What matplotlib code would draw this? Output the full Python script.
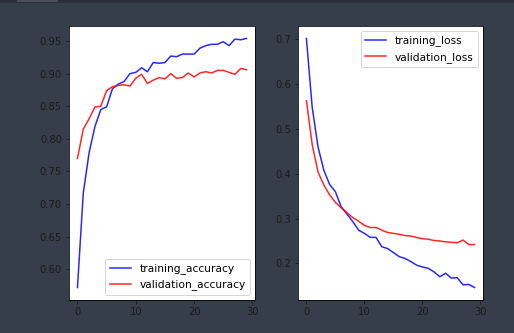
import matplotlib
matplotlib.use("Agg")
import matplotlib.pyplot as plt
from matplotlib.patches import Rectangle

BG = "#373e4b"

epochs = list(range(30))

training_accuracy = [0.572, 0.717, 0.779, 0.819, 0.845, 0.849, 0.877, 0.884, 0.888, 0.900,
                     0.902, 0.909, 0.903, 0.917, 0.916, 0.917, 0.927, 0.926, 0.930, 0.930,
                     0.930, 0.939, 0.943, 0.945, 0.945, 0.949, 0.943, 0.953, 0.952, 0.954]
validation_accuracy = [0.770, 0.815, 0.831, 0.849, 0.850, 0.874, 0.880, 0.882, 0.883, 0.881,
                       0.893, 0.899, 0.885, 0.890, 0.894, 0.892, 0.900, 0.893, 0.894, 0.901,
                       0.895, 0.901, 0.903, 0.901, 0.905, 0.905, 0.902, 0.899, 0.908, 0.906]
training_loss = [0.702, 0.548, 0.460, 0.408, 0.376, 0.360, 0.326, 0.310, 0.293, 0.274,
                 0.267, 0.258, 0.258, 0.237, 0.233, 0.224, 0.215, 0.211, 0.204, 0.196,
                 0.192, 0.189, 0.181, 0.170, 0.178, 0.167, 0.168, 0.152, 0.153, 0.146]
validation_loss = [0.563, 0.465, 0.404, 0.375, 0.353, 0.336, 0.324, 0.313, 0.302, 0.294,
                   0.285, 0.280, 0.280, 0.274, 0.269, 0.267, 0.265, 0.262, 0.261, 0.258,
                   0.255, 0.254, 0.251, 0.250, 0.248, 0.247, 0.246, 0.252, 0.242, 0.242]

fig = plt.figure(figsize=(514 / 72, 333 / 72), dpi=72)
fig.patch.set_facecolor(BG)

# notebook toolbar strip at the very top
fig.patches.append(Rectangle((0, 1 - 3 / 333), 1, 3 / 333, transform=fig.transFigure,
                             facecolor="#2a2f38", linewidth=0))
fig.patches.append(Rectangle((17 / 514, 1 - 2 / 333), 41 / 514, 2 / 333,
                             transform=fig.transFigure, facecolor="#4a505a", linewidth=0))

ax1 = fig.add_axes([69 / 514, 33 / 333, 186 / 514, 274 / 333])
ax2 = fig.add_axes([298 / 514, 33 / 333, 185 / 514, 274 / 333])

ax1.plot(epochs, training_accuracy, color="b", alpha=0.85, lw=1.5, label="training_accuracy")
ax1.plot(epochs, validation_accuracy, color="r", alpha=0.85, lw=1.5, label="validation_accuracy")
ax1.set_xticks([0, 10, 20, 30])
ax1.legend(loc="lower right", fontsize=10.6)

ax2.plot(epochs, training_loss, color="b", alpha=0.85, lw=1.5, label="training_loss")
ax2.plot(epochs, validation_loss, color="r", alpha=0.85, lw=1.5, label="validation_loss")
ax2.set_xticks([0, 10, 20, 30])
ax2.legend(loc="upper right", fontsize=10.6)

for ax in (ax1, ax2):
    ax.tick_params(labelsize=10, colors="#1a1a1a")

fig.savefig("out.png", dpi=72, facecolor=BG)
